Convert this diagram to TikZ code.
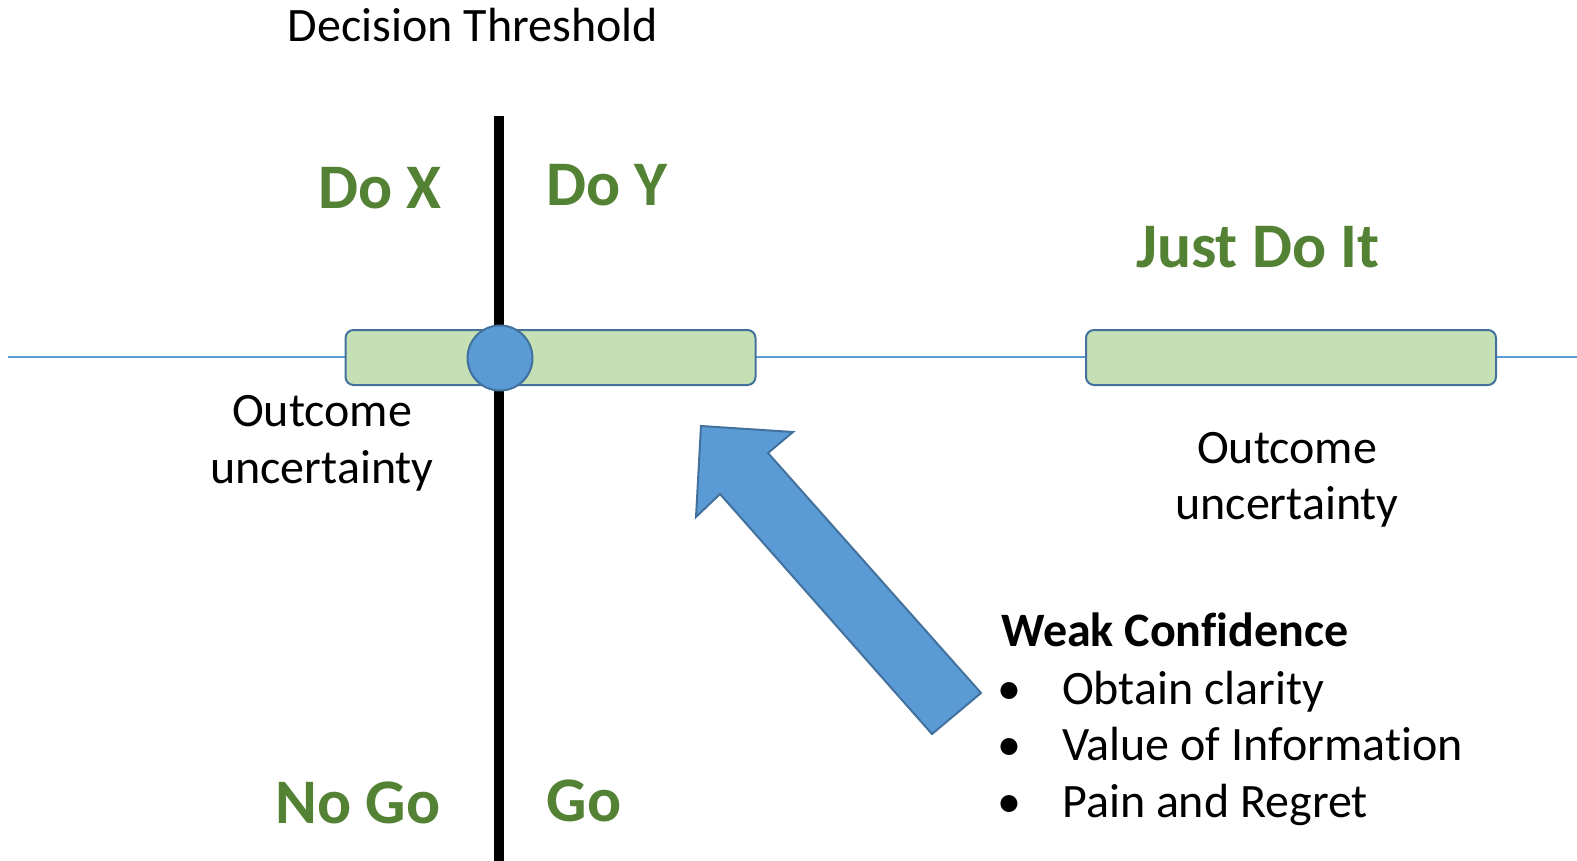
\documentclass[tikz,border=0pt]{standalone}
\usepackage{fontspec}
\setmainfont{Carlito}[Ligatures=NoCommon]
\definecolor{goGreen}{HTML}{548235}
\definecolor{barFill}{HTML}{C5E0B4}
\definecolor{shapeLine}{HTML}{41719C}
\definecolor{accentBlue}{HTML}{5B9BD5}
\tikzset{
  bar/.style={draw=shapeLine, line width=2pt, fill=barFill, rounded corners=8pt,
    minimum width=410pt, minimum height=55pt, inner sep=0pt},
  dot/.style={circle, draw=shapeLine, line width=2pt, fill=accentBlue,
    minimum size=65pt, inner sep=0pt},
  txt/.style={font=\fontsize{48}{57}\selectfont, inner sep=0pt, anchor=base},
  choice/.style={font=\fontsize{63.5}{70}\selectfont\bfseries, text=goGreen,
    inner sep=0pt, anchor=base},
}
\begin{document}
\begin{tikzpicture}[x=1pt,y=-1pt]
\useasboundingbox (0,0) rectangle (1577,861);

% axis of outcomes
\coordinate (axisL) at (8,357);
\coordinate (axisR) at (1577,357);
\draw[accentBlue, line width=1.2pt] (axisL) -- (axisR);

% uncertainty ranges
\node[bar] (barL) at (550.5,357.5) {};
\node[bar] (barR) at (1291,357.5) {};

% decision threshold
\coordinate (thrTop) at (499,116);
\coordinate (thrBot) at (499,861);
\draw[black, line width=10pt] (thrTop) -- (thrBot);
\node[dot] (point) at (500,358) {};

% titles and labels
\node[txt] (thr) at (473,42) {Decision Threshold};
\node[choice] (dox) at (380,209) {Do X};
\node[choice] (doy) at (607,206) {Do Y};
\node[choice] (just) at (1258,267) {Just Do It};
\node[choice] (nogo) at (358,823) {No Go};
\node[choice] (go) at (584,821) {Go};

\node[txt] (outL1) at (322,426) {Outcome};
\node[txt] (outL2) at (322,483) {uncertainty};
\node[txt] (outR1) at (1287,463) {Outcome};
\node[txt] (outR2) at (1287,519) {uncertainty};

% weak confidence list
\node[txt, anchor=base west, font=\fontsize{48}{57}\selectfont\bfseries] (weak) at (1001,646) {Weak Confidence};
\foreach \y/\t/\n in {704/Obtain clarity/a, 760/Value of Information/b, 817/Pain and Regret/c}{
  \node[txt] (bul\n) at (1009,\y) {\textbullet};
  \node[txt, anchor=base west] (item\n) at (1062,\y) {\t};
}

% block arrow pointing at the range
\draw[shapeLine, line width=2pt, fill=accentBlue, line join=miter]
  (701,426) -- (793,432) -- (768,453) -- (981,693) -- (932,734)
  -- (720,494) -- (696,517) -- cycle;
\end{tikzpicture}
\end{document}
